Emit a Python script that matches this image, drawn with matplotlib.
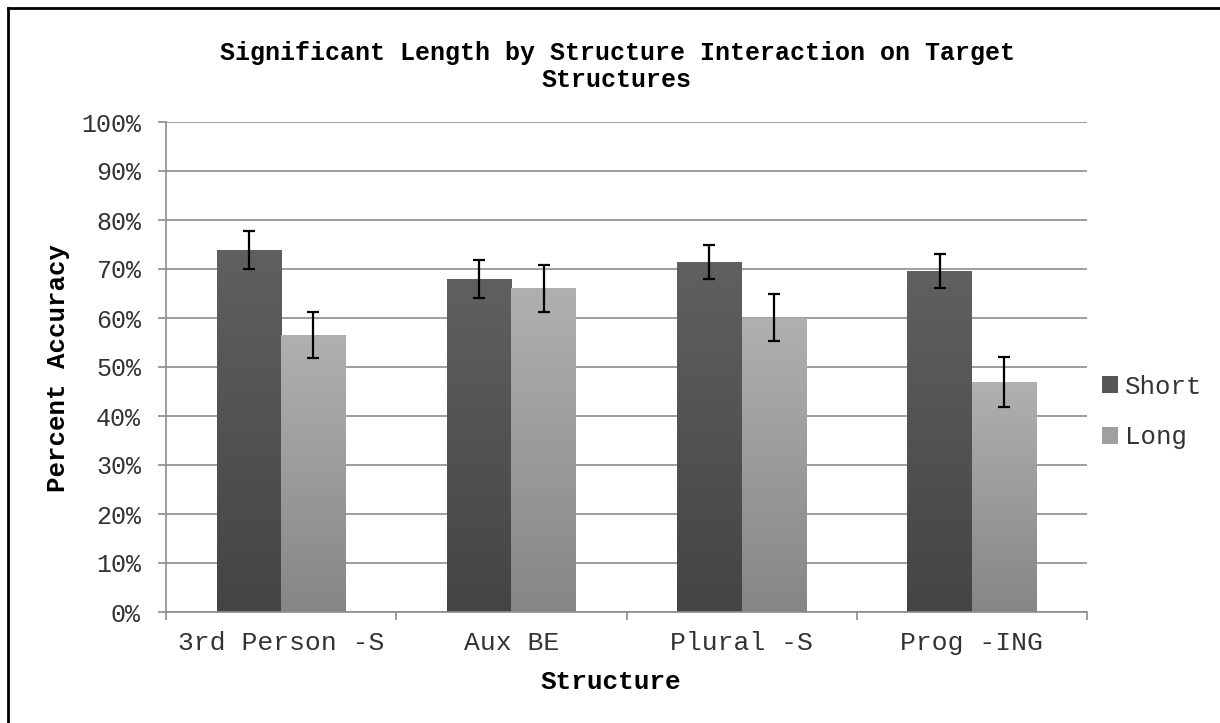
import matplotlib
matplotlib.use("Agg")
import matplotlib.pyplot as plt
import numpy as np
from matplotlib.colors import LinearSegmentedColormap
from matplotlib.patches import Patch
from matplotlib.lines import Line2D

categories = ["3rd Person -S", "Aux BE", "Plural -S", "Prog -ING"]
short_vals = [73.9, 68.0, 71.4, 69.6]
short_err = [3.8, 3.9, 3.5, 3.5]
long_vals = [56.5, 66.1, 60.1, 46.9]
long_err = [4.7, 4.8, 4.8, 5.1]
series_names = ["Short", "Long"]
y_ticks = [0, 10, 20, 30, 40, 50, 60, 70, 80, 90, 100]
title = "Significant Length by Structure Interaction on Target\nStructures"

FONT = ["Liberation Mono", "DejaVu Sans Mono"]
plt.rcParams['font.family'] = FONT

fig = plt.figure(figsize=(12.2, 7.23), dpi=100)
ax = fig.add_axes([166/1220, 1-612/723, (1087-166)/1220, (612-122)/723])

x = np.arange(len(categories))
w = 0.28
grid_c = "#8c8c8c"
txt_c = "#333333"

ax.set_xlim(-0.5, len(categories)-0.5)
ax.set_ylim(0, 100)
ax.set_yticks(y_ticks)
ax.set_yticklabels([f"{t}%" for t in y_ticks])
ax.yaxis.grid(True, color=grid_c, lw=1.2)
ax.set_axisbelow(True)

grads = [("#606060", "#444444"), ("#b0b0b0", "#868686")]
for vals, errs, off, (ctop, cbot) in [(short_vals, short_err, -w/2, grads[0]),
                                      (long_vals, long_err, w/2, grads[1])]:
    bars = ax.bar(x + off, vals, width=w, color=ctop, edgecolor="none", zorder=2)
    cmap = LinearSegmentedColormap.from_list("g", [cbot, ctop])
    for b in bars:
        x0, y0 = b.get_x(), b.get_y()
        bw, bh = b.get_width(), b.get_height()
        grad = np.linspace(0, 1, 256).reshape(-1, 1)
        im = ax.imshow(grad, cmap=cmap, origin="lower", aspect="auto",
                       extent=[x0, x0+bw, y0, y0+bh], zorder=2.5)
        im.set_clip_path(b)
    ax.errorbar(x + off, vals, yerr=errs, fmt="none", ecolor="black",
                elinewidth=1.6, capsize=4.5, capthick=1.6, zorder=4)

ax.set_xlim(-0.5, len(categories)-0.5)
ax.set_ylim(0, 100)

for s in ["top", "right"]:
    ax.spines[s].set_visible(False)
for s in ["left", "bottom"]:
    ax.spines[s].set_color(grid_c)
    ax.spines[s].set_linewidth(1.2)

ax.set_xticks(x)
ax.set_xticklabels(categories)
ax.set_xticks(np.arange(-0.5, len(categories), 1), minor=True)
ax.tick_params(axis="x", which="major", length=0, pad=14, labelsize=19, labelcolor=txt_c)
ax.tick_params(axis="x", which="minor", length=6, width=1.2, color=grid_c, direction="out")
ax.tick_params(axis="y", length=6, width=1.2, color=grid_c, pad=12, labelsize=18, labelcolor=txt_c)

fig.text(617/1220, 0.908, title, ha="center", va="center", fontsize=18,
         fontweight="bold", linespacing=1.12)
fig.text(58/1220, 1-368/723, "Percent Accuracy", rotation=90, ha="center", va="center",
         fontsize=18.5, fontweight="bold")
fig.text(611/1220, 1-682/723, "Structure", ha="center", va="center",
         fontsize=18.8, fontweight="bold")

handles = [Patch(facecolor="#565656", edgecolor="none"),
           Patch(facecolor="#a0a0a0", edgecolor="none")]
leg = fig.legend(handles, series_names, loc="center left",
                 bbox_to_anchor=(1079/1220, 1-412/723), frameon=False,
                 fontsize=18.5, handlelength=0.6, handleheight=0.6, handletextpad=0.3,
                 labelspacing=1.05)
for t in leg.get_texts():
    t.set_color(txt_c)

fig.add_artist(Line2D([8/1220, 8/1220], [0, 1-8/723], color="black", lw=2,
                      transform=fig.transFigure))
fig.add_artist(Line2D([8/1220, 1], [1-8/723, 1-8/723], color="black", lw=2,
                      transform=fig.transFigure))

fig.savefig("out.png", dpi=100, facecolor="white")
